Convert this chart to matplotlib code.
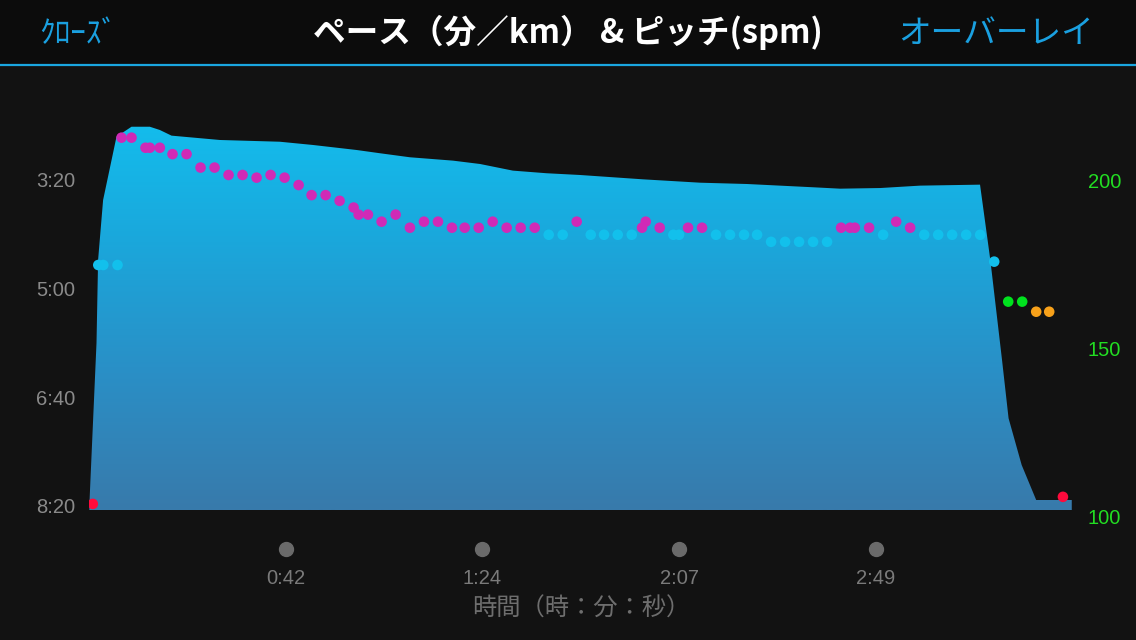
import matplotlib
matplotlib.use('Agg')
import matplotlib.pyplot as plt
import numpy as np
from matplotlib.colors import LinearSegmentedColormap
from matplotlib.patches import Rectangle, Polygon
from matplotlib.lines import Line2D

plt.rcParams['font.family'] = ['Noto Sans CJK JP', 'DejaVu Sans']

# pace curve (elapsed minutes, seconds per km)
time_min = [0, 1.54, 1.88, 2.95, 5.81, 9.02, 12.93, 15.07, 17.57, 27.9, 40.7,
            47.8, 57.1, 62.1, 68.5, 77.7, 83.5, 90.5, 97.7, 104.8, 118.3,
            130.5, 140.5, 154.6, 160.4, 169.0, 177.5, 190.3, 192.5, 195.0,
            196.4, 199.2, 202.3, 209.9]
pace_sec = [500, 350, 273.6, 218.4, 160.2, 151, 151, 154, 159.2, 163.2, 164.8,
            167.8, 172.4, 175.4, 179.1, 182.2, 185.3, 191.4, 193.8, 195.4, 199.4,
            202.5, 203.7, 206.7, 208.0, 207.4, 205.2, 204.3, 273.6, 365.6,
            419.3, 462.3, 494.5, 494.5]

# cadence samples (elapsed minutes, spm)
cad_time = [0.75, 1.92, 2.99, 6.03, 6.88, 9.02, 12.01, 12.93, 15.07, 17.78,
            20.78, 23.77, 26.76, 29.75, 32.74, 35.74, 38.73, 41.72, 44.72,
            47.49, 50.49, 53.48, 56.47, 57.54, 59.53, 62.45, 65.45, 68.50,
            71.50, 74.49, 77.48, 80.20, 83.19, 86.18, 89.17, 92.16, 95.16,
            98.15, 101.14, 104.13, 107.13, 109.97, 112.90, 115.89, 118.09,
            118.88, 121.87, 124.78, 126.0, 127.92, 130.91, 133.90, 136.89,
            139.88, 142.67, 145.66, 148.65, 151.64, 154.63, 157.62, 160.62,
            162.54, 163.55, 166.60, 169.60, 172.38, 175.37, 178.37, 181.36,
            184.35, 187.34, 190.33, 193.33, 196.32, 199.31, 202.30, 205.08,
            208.01]
cad_spm = [103.6, 174.7, 174.7, 174.7, 212.6, 212.6, 209.6, 209.6, 209.6, 207.7,
           207.7, 203.7, 203.7, 201.5, 201.5, 200.7, 201.5, 200.7, 198.5,
           195.5, 195.5, 193.8, 191.8, 189.7, 189.7, 187.6, 189.7, 185.8,
           187.6, 187.6, 185.8, 185.8, 185.8, 187.6, 185.8, 185.8, 185.8,
           183.7, 183.7, 187.6, 183.7, 183.7, 183.7, 183.7, 185.8,
           187.6, 185.8, 183.7, 183.7, 185.8, 185.8, 183.7, 183.7,
           183.7, 183.7, 181.6, 181.6, 181.6, 181.6, 181.6, 185.8,
           185.8, 185.8, 185.8, 183.7, 187.6, 185.8, 183.7, 183.7,
           183.7, 183.7, 183.7, 175.7, 163.8, 163.8, 160.8, 160.8,
           105.7]

pace_ticks = [200, 300, 400, 500]
pace_labels = ['3:20', '5:00', '6:40', '8:20']
cad_ticks = [100, 150, 200]
time_ticks = [42, 84, 126, 168]
time_labels = ['0:42', '1:24', '2:07', '2:49']


def zone_color(c):
    if c >= 185:
        return '#d02ab6'
    if c >= 170:
        return '#12c0ec'
    if c >= 162:
        return '#00e21e'
    if c >= 150:
        return '#f7a11a'
    return '#ff0a3c'


W, H = 1136, 640
fig = plt.figure(figsize=(W / 100, H / 100), dpi=100)
fig.patch.set_facecolor('#121212')

# header bar
fig.patches.append(Rectangle((0, 1 - 64 / H), 1, 64 / H, transform=fig.transFigure,
                             facecolor='#0c0c0c', edgecolor='none', zorder=0))
fig.lines.append(Line2D([0, 1], [1 - 65 / H] * 2, transform=fig.transFigure,
                        color='#1aa6e0', lw=1.6))
fig.text(39 / W, 1 - 34 / H, 'ｸﾛｰｽﾞ', color='#1aa0e0', fontsize=22.5,
         ha='left', va='center')
fig.text(568 / W, 1 - 32 / H, 'ペース（分／km） & ピッチ(spm)', color='white',
         fontsize=23.5, fontweight='bold', ha='center', va='center')
fig.text(1094 / W, 1 - 34 / H, 'オーバーレイ', color='#1aa0e0', fontsize=23.5,
         ha='right', va='center')

left, right, top, bottom = 89.3, 1072.7, 100, 520
ax = fig.add_axes([left / W, 1 - bottom / H, (right - left) / W, (bottom - top) / H])
ax.set_facecolor('none')
for s in ax.spines.values():
    s.set_visible(False)

pace_bottom = 503.7
verts = list(zip(time_min, pace_sec)) + [(time_min[-1], pace_bottom), (time_min[0], pace_bottom)]
area = Polygon(verts, closed=True, facecolor='none', edgecolor='none')
ax.add_patch(area)
cmap = LinearSegmentedColormap.from_list('area', ['#12c1f0', '#1aa8dc', '#2a8fc6', '#387aab'])
grad = np.linspace(0, 1, 256).reshape(-1, 1)
img = ax.imshow(grad, extent=[0, 210.1, pace_bottom, 126.4], aspect='auto',
                cmap=cmap, zorder=1)
img.set_clip_path(area)

num_font = 'Liberation Sans'
ax.set_xlim(0, 210.1)
ax.set_ylim(512.9, 126.4)
ax.set_yticks(pace_ticks)
ax.set_yticklabels(pace_labels, family=num_font)
ax.tick_params(axis='y', length=0, pad=10, colors='#8a8a8a', labelsize=14.5)
ax.set_xticks(time_ticks)
ax.set_xticklabels(time_labels, family=num_font)
ax.tick_params(axis='x', length=0, pad=35, colors='#7a7a7a', labelsize=14.5)
ax.plot(time_ticks, [-29 / 420] * len(time_ticks), 'o', color='#6a6a6a', ms=10,
        transform=ax.get_xaxis_transform(), clip_on=False)

ax2 = ax.twinx()
for s in ax2.spines.values():
    s.set_visible(False)
ax2.set_ylim(98.81, 223.81)
ax2.set_yticks(cad_ticks)
ax2.set_yticklabels([str(v) for v in cad_ticks], family=num_font)
ax2.tick_params(axis='y', length=0, pad=11, colors='#22dd22', labelsize=14.5)
ax2.scatter(cad_time, cad_spm, s=58, c=[zone_color(c) for c in cad_spm],
            linewidths=0, zorder=3)

fig.text(581 / W, 1 - 609 / H, '時間（時：分：秒）', color='#6e6e6e', fontsize=17.5,
         ha='center', va='center')

fig.savefig('out.png', dpi=100, facecolor=fig.get_facecolor())
